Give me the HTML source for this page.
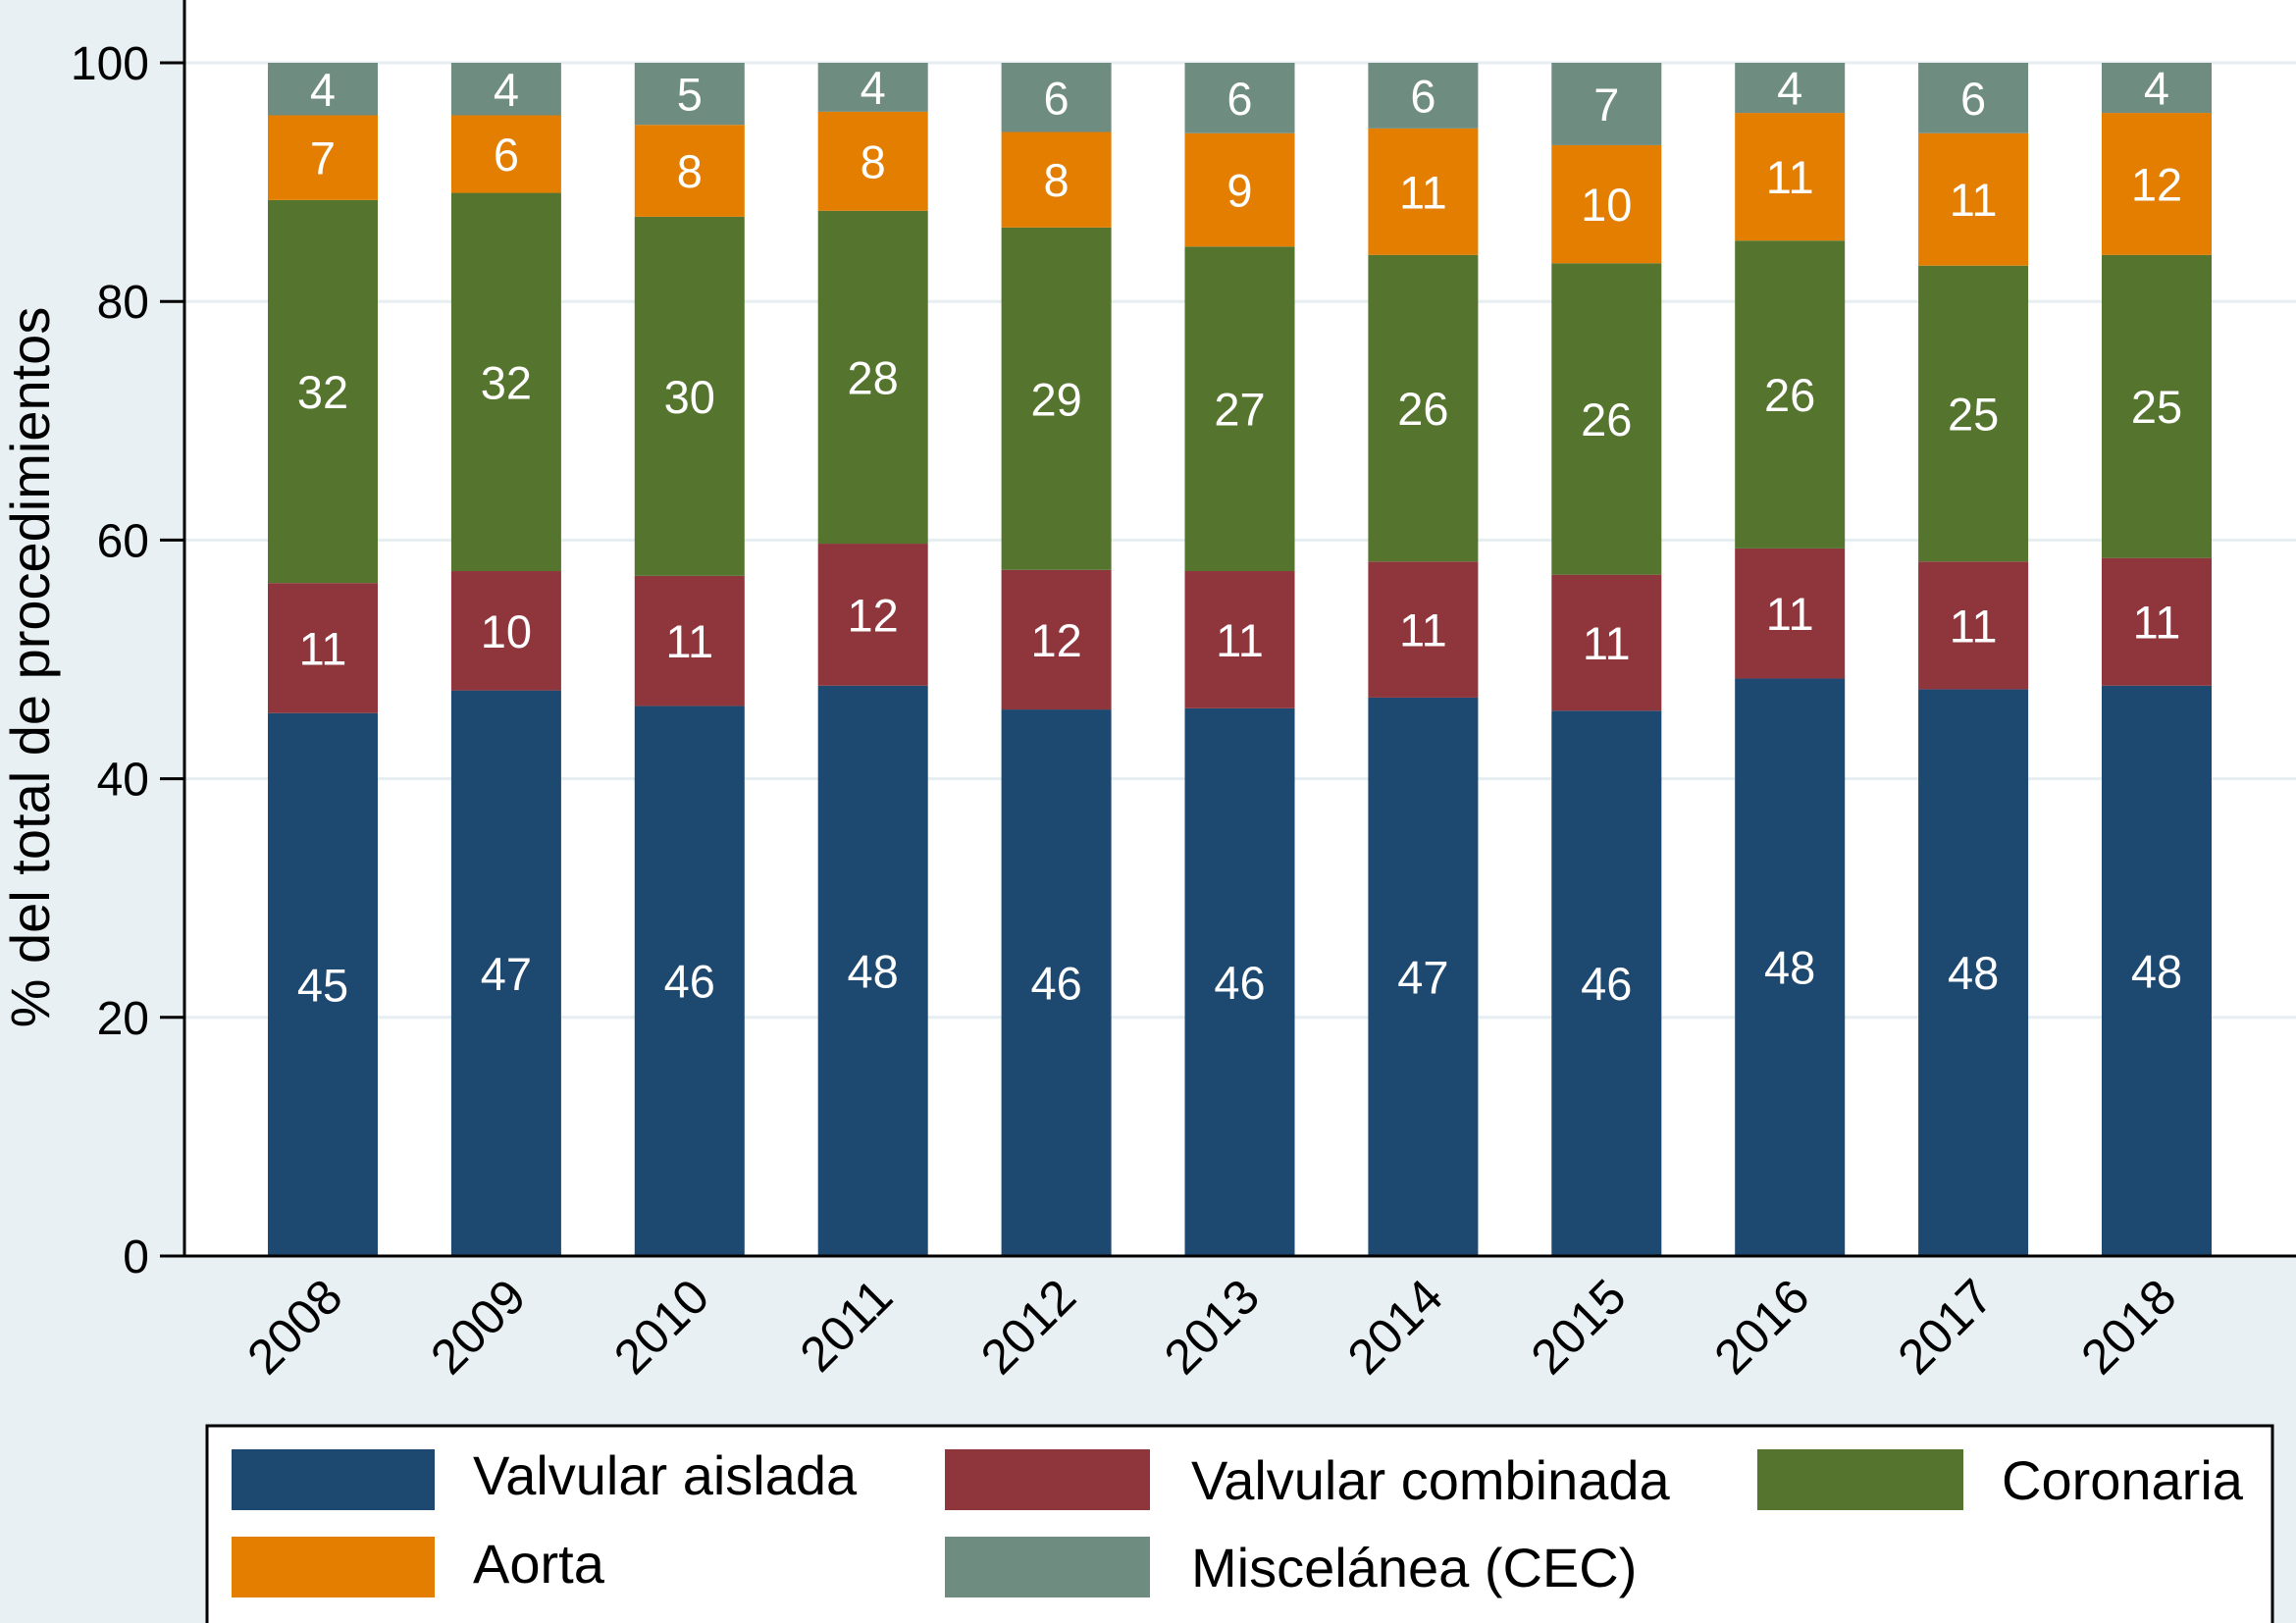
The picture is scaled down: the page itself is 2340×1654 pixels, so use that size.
<!DOCTYPE html>
<html><head><meta charset="utf-8">
<style>
html,body{margin:0;padding:0;background:#e8f0f3;}
svg{display:block;font-family:"Liberation Sans",Arial,sans-serif;}
</style></head>
<body>
<svg id="chart" width="2340" height="1654" viewBox="0 0 2340 1654" xmlns="http://www.w3.org/2000/svg">
  <rect x="0" y="0" width="2340" height="1654" fill="#e8f0f3"/>
  <rect x="188" y="0" width="2152" height="1280" fill="#ffffff"/>
  <g id="grid"></g>
  <g id="bars"></g>
  <g id="yaxis"></g>
  <g id="xaxis"></g>
  <text transform="translate(50,680) rotate(-90)" text-anchor="middle" font-size="56" fill="#000">% del total de procedimientos</text>
  <g>
    <rect x="211" y="1453" width="2105" height="210" fill="#fff" stroke="#000" stroke-width="3"/>
    <g>
      <rect x="236" y="1477" width="207" height="62" fill="#1d4870"/>
      <text x="482" y="1523" font-size="56">Valvular aislada</text>
    </g>
    <g>
      <rect x="963" y="1477" width="209" height="62" fill="#8f353c"/>
      <text x="1214" y="1528" font-size="56">Valvular combinada</text>
    </g>
    <g>
      <rect x="1791" y="1477" width="210" height="62" fill="#55752f"/>
      <text x="2040" y="1528" font-size="56">Coronaria</text>
    </g>
    <g>
      <rect x="236" y="1566" width="207" height="62" fill="#e37e00"/>
      <text x="482" y="1613" font-size="56">Aorta</text>
    </g>
    <g>
      <rect x="963" y="1566" width="209" height="62" fill="#6e8c80"/>
      <text x="1214" y="1617" font-size="56">Miscelánea (CEC)</text>
    </g>
  </g>
</svg>
<script>
const years = ["2008","2009","2010","2011","2012","2013","2014","2015","2016","2017","2018"];
const valvularAislada = [45.5,47.4,46.1,47.8,45.8,45.9,46.8,45.7,48.4,47.5,47.8];
const valvularCombinada = [10.9,10.0,10.9,11.9,11.7,11.5,11.4,11.4,10.9,10.7,10.7];
const coronaria = [32.1,31.7,30.1,27.9,28.7,27.2,25.7,26.1,25.8,24.8,25.4];
const aorta = [7.1,6.5,7.7,8.3,8.0,9.5,10.6,9.9,10.7,11.1,11.9];
const miscelanea = [4.4,4.4,5.2,4.1,5.8,5.9,5.5,6.9,4.2,5.9,4.2];
const labVA = [45,47,46,48,46,46,47,46,48,48,48];
const labVC = [11,10,11,12,12,11,11,11,11,11,11];
const labCor = [32,32,30,28,29,27,26,26,26,25,25];
const labAo = [7,6,8,8,8,9,11,10,11,11,12];
const labMi = [4,4,5,4,6,6,6,7,4,6,4];
const yTicks = [0,20,40,60,80,100];

const NS = "http://www.w3.org/2000/svg";
const y0 = 1280, y100 = 64;
function yScale(v){ return y0 - (y0 - y100) * v / 100; }
const firstCenter = 329, step = 186.9, barW = 112;
function xScale(i){ return firstCenter + i * step; }
function mk(tag, attrs, parent){
  const el = document.createElementNS(NS, tag);
  for (const k in attrs) el.setAttribute(k, attrs[k]);
  parent.appendChild(el);
  return el;
}
const grid = document.getElementById('grid');
const yaxis = document.getElementById('yaxis');
const xaxis = document.getElementById('xaxis');
const bars = document.getElementById('bars');

yTicks.forEach(t => {
  const y = yScale(t);
  if (t > 0) {
    const g = mk('line', {x1:188, x2:2340, y1:y, y2:y, stroke:'#e6eef1', 'stroke-width':3}, grid);
    
    
  }
  const tk = mk('line', {x1:163, x2:188, y1:y, y2:y, stroke:'#000', 'stroke-width':3}, yaxis);
  
  
  const lb = mk('text', {x:152, y:y + 17, 'text-anchor':'end', 'font-size':48, fill:'#000'}, yaxis);
  lb.textContent = t;
  
  
});

const series = [
  {name:'valvular-aislada', vals:valvularAislada, labs:labVA, color:'#1d4870'},
  {name:'valvular-combinada', vals:valvularCombinada, labs:labVC, color:'#8f353c'},
  {name:'coronaria', vals:coronaria, labs:labCor, color:'#55752f'},
  {name:'aorta', vals:aorta, labs:labAo, color:'#e37e00'},
  {name:'miscelanea', vals:miscelanea, labs:labMi, color:'#6e8c80'}
];
years.forEach((yr, i) => {
  let cum = 0;
  const cx = xScale(i);
  series.forEach(s => {
    const v = s.vals[i];
    const yt = yScale(cum + v), yb = yScale(cum);
    const r = mk('rect', {x:cx - barW/2, y:yt, width:barW, height:yb - yt, fill:s.color}, bars);
    
    
    const t = mk('text', {x:cx, y:(yt + yb)/2 + 17, 'text-anchor':'middle', 'font-size':47, fill:'#fff'}, bars);
    t.textContent = s.labs[i];
    
    
    cum += v;
  });
  const xl = mk('text', {transform:'translate(' + (cx - 2) + ',1300) rotate(-45)', 'text-anchor':'end', 'font-size':50, fill:'#000', dy:'0.7em'}, xaxis);
  xl.textContent = yr;
  
  
});
const ya = mk('line', {x1:188, x2:188, y1:0, y2:1281, stroke:'#000', 'stroke-width':3}, yaxis);


const xa = mk('line', {x1:163, x2:2340, y1:1280, y2:1280, stroke:'#000', 'stroke-width':3}, xaxis);


</script>
</body></html>
